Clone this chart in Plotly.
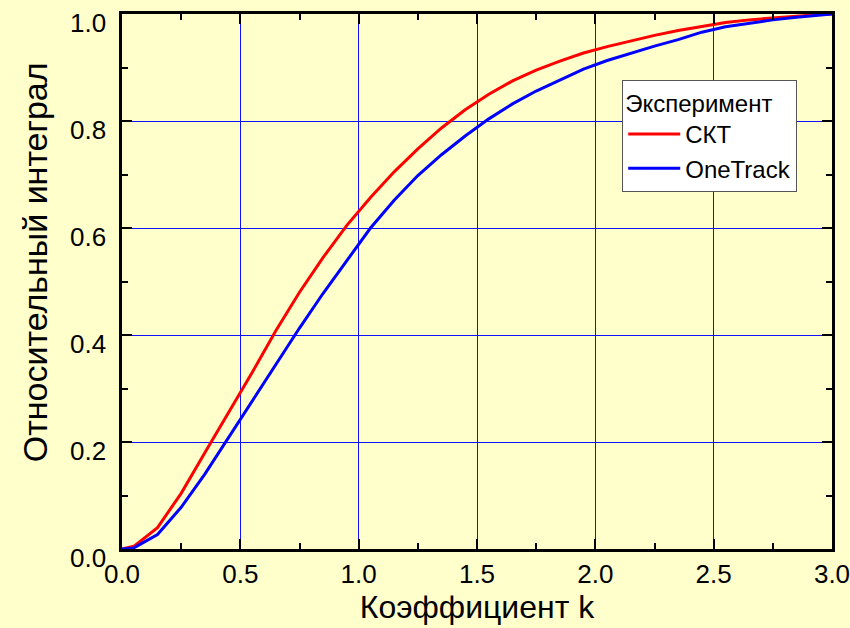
import plotly.graph_objects as go

k = [0.0, 0.05, 0.15, 0.25, 0.35, 0.45, 0.55, 0.65, 0.75, 0.85, 0.95, 1.05, 1.15, 1.25,
     1.35, 1.45, 1.55, 1.65, 1.75, 1.85, 1.95, 2.05, 2.15, 2.25, 2.35, 2.45, 2.55, 2.65,
     2.75, 2.85, 2.95, 3.0]
skt = [0.0, 0.005, 0.040, 0.104, 0.180, 0.255, 0.330, 0.408, 0.480, 0.545, 0.605, 0.657,
       0.705, 0.748, 0.787, 0.821, 0.850, 0.875, 0.895, 0.912, 0.927, 0.939, 0.950, 0.960,
       0.969, 0.977, 0.984, 0.989, 0.993, 0.996, 0.999, 1.0]
onetrack = [0.0, 0.002, 0.027, 0.078, 0.140, 0.208, 0.276, 0.345, 0.413, 0.478, 0.540, 0.600,
            0.652, 0.698, 0.737, 0.772, 0.804, 0.832, 0.856, 0.877, 0.897, 0.913, 0.927, 0.940,
            0.952, 0.966, 0.976, 0.983, 0.989, 0.994, 0.998, 1.0]
x_ticks = [0.0, 0.5, 1.0, 1.5, 2.0, 2.5, 3.0]
y_ticks = [0.0, 0.2, 0.4, 0.6, 0.8, 1.0]

FONT = "Liberation Sans, Arial, sans-serif"
BG = "#FFFFCC"
TICK_SIZE = 26

fig = go.Figure()
fig.add_trace(go.Scatter(x=k, y=skt, mode="lines", name="СКТ",
                         line=dict(color="#FF0000", width=3)))
fig.add_trace(go.Scatter(x=k, y=onetrack, mode="lines", name="OneTrack",
                         line=dict(color="#0000FF", width=3)))

# y tick labels (drawn slightly below their ticks, as in the original)
for v in y_ticks:
    fig.add_annotation(x=0, xref="paper", y=v, yref="y", text=f"{v:.1f}",
                       showarrow=False, xanchor="right", yanchor="middle",
                       xshift=-14, yshift=-9,
                       font=dict(family=FONT, size=TICK_SIZE, color="black"))

# y axis title (sits a little above the centre of the axis in the original)
fig.add_annotation(x=0, xref="paper", y=0.536, yref="paper", text="Относительный интеграл",
                   showarrow=False, textangle=-90, xanchor="center", yanchor="middle",
                   xshift=-87, font=dict(family=FONT, size=34, color="black"))

fig.update_layout(
    width=850, height=628,
    margin=dict(l=122, r=18, t=14, b=79, autoexpand=False),
    paper_bgcolor=BG, plot_bgcolor=BG,
    font=dict(family=FONT, color="black", size=24),
    showlegend=True,
    legend=dict(
        x=0.951, y=0.877, xanchor="right", yanchor="top",
        bgcolor="white", bordercolor="#555555", borderwidth=1,
        font=dict(family=FONT, size=24, color="black"),
        title=dict(text="Эксперимент", font=dict(family=FONT, size=24, color="black"), side="top"),
        tracegroupgap=0, itemwidth=52,
    ),
)

fig.update_xaxes(
    range=[0, 3.0], tickmode="array", tickvals=x_ticks, ticktext=[f"{v:.1f}" for v in x_ticks],
    showline=True, linecolor="black", linewidth=3, mirror="ticks",
    ticks="inside", ticklen=10, tickwidth=2, tickcolor="black",
    minor=dict(ticks="inside", ticklen=6, tickwidth=2, tickcolor="black", dtick=0.25, showgrid=False),
    showgrid=True, gridcolor="#1010FF", gridwidth=1, zeroline=False,
    tickfont=dict(family=FONT, size=TICK_SIZE, color="black"),
    ticklabelstandoff=0, ticklabeloverflow="allow",
    title=dict(text="Коэффициент k", font=dict(family=FONT, size=32, color="black"), standoff=8),
)
fig.update_yaxes(
    range=[0, 1.0], tickmode="array", tickvals=y_ticks, showticklabels=False,
    showline=True, linecolor="black", linewidth=3, mirror="ticks",
    ticks="inside", ticklen=10, tickwidth=2, tickcolor="black",
    minor=dict(ticks="inside", ticklen=6, tickwidth=2, tickcolor="black", dtick=0.1, showgrid=False),
    showgrid=True, gridcolor="#1010FF", gridwidth=1, zeroline=False,
)

fig.write_html("out.html")
